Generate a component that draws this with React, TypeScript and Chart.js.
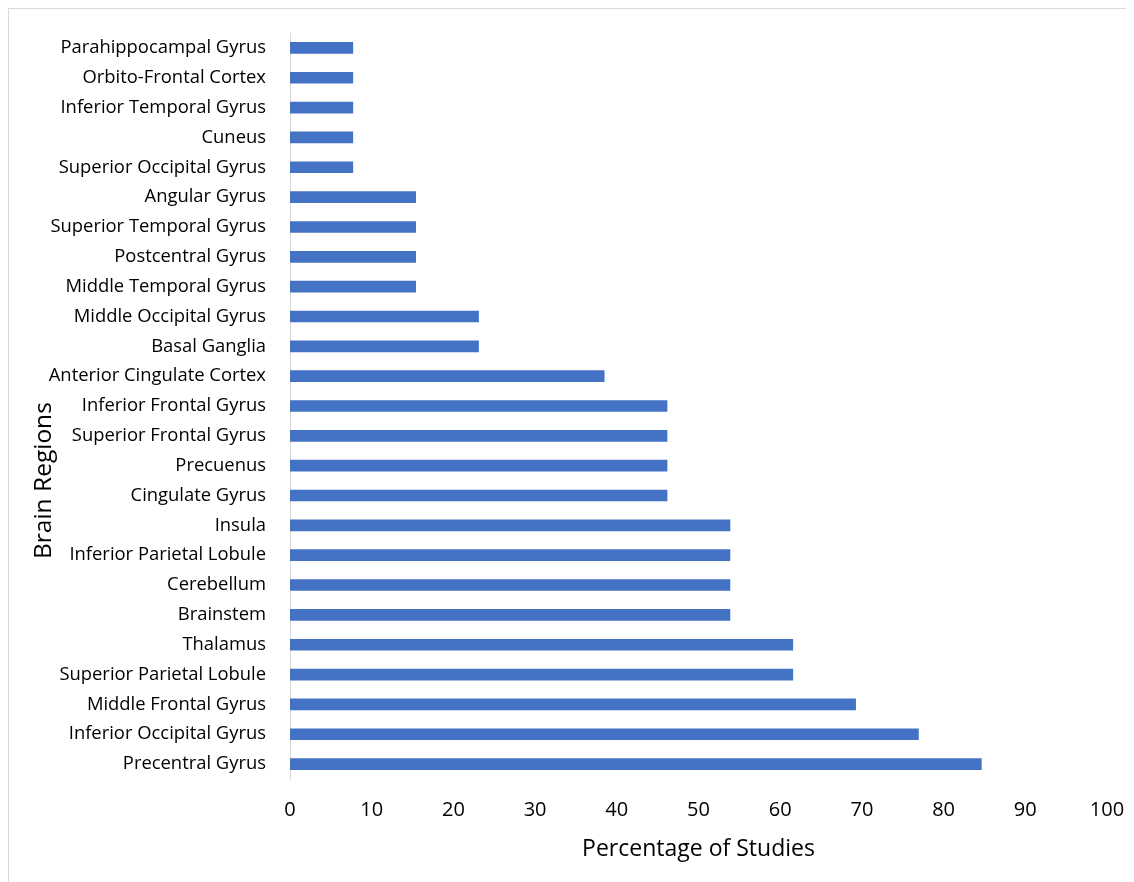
import React, { useEffect, useRef } from "react";
import { Chart, registerables } from "chart.js";

Chart.register(...registerables);

// Brain regions, listed top to bottom as drawn
const regions: string[] = [
  "Parahippocampal Gyrus",
  "Orbito-Frontal Cortex",
  "Inferior Temporal Gyrus",
  "Cuneus",
  "Superior Occipital Gyrus",
  "Angular Gyrus",
  "Superior Temporal Gyrus",
  "Postcentral Gyrus",
  "Middle Temporal Gyrus",
  "Middle Occipital Gyrus",
  "Basal Ganglia",
  "Anterior Cingulate Cortex",
  "Inferior Frontal Gyrus",
  "Superior Frontal Gyrus",
  "Precuenus",
  "Cingulate Gyrus",
  "Insula",
  "Inferior Parietal Lobule",
  "Cerebellum",
  "Brainstem",
  "Thalamus",
  "Superior Parietal Lobule",
  "Middle Frontal Gyrus",
  "Inferior Occipital Gyrus",
  "Precentral Gyrus",
];

// Percentage of studies reporting each region
const percentages: number[] = [
  7.69, 7.69, 7.69, 7.69, 7.69,
  15.38, 15.38, 15.38, 15.38,
  23.08, 23.08,
  38.46,
  46.15, 46.15, 46.15, 46.15,
  53.85, 53.85, 53.85, 53.85,
  61.54, 61.54,
  69.23,
  76.92,
  84.62,
];

const xMin = 0;
const xMax = 100;
const xStep = 10;

const xTitle = "Percentage of Studies";
const yTitle = "Brain Regions";

const FONT = "'Open Sans', 'Noto Sans', sans-serif";

// Draws both axis titles in Excel-like positions
const axisTitles = {
  id: "axisTitles",
  afterDraw(chart: Chart) {
    const { ctx, chartArea } = chart;
    ctx.save();
    ctx.fillStyle = "#000000";
    ctx.textAlign = "center";
    ctx.textBaseline = "middle";
    ctx.font = `23px ${FONT}`;
    ctx.fillText(xTitle, (chartArea.left + chartArea.right) / 2, chartArea.bottom + 70);
    ctx.font = `24.5px ${FONT}`;
    ctx.translate(35, chartArea.top + 0.6 * (chartArea.bottom - chartArea.top));
    ctx.rotate(-Math.PI / 2);
    ctx.fillText(yTitle, 0, 0);
    ctx.restore();
  },
};

export default function App() {
  const canvasRef = useRef<HTMLCanvasElement | null>(null);

  useEffect(() => {
    if (!canvasRef.current) return;
    const chart = new Chart(canvasRef.current, {
      type: "bar",
      data: {
        labels: regions,
        datasets: [
          {
            data: percentages,
            backgroundColor: "#4472C4",
            borderWidth: 0,
            barThickness: 11,
          },
        ],
      },
      options: {
        indexAxis: "y",
        animation: false,
        responsive: false,
        layout: { padding: { top: 24, right: 27, left: 0, bottom: 0 } },
        plugins: {
          legend: { display: false },
          tooltip: { enabled: false },
        },
        scales: {
          x: {
            min: xMin,
            max: xMax,
            grid: { display: false, drawTicks: false },
            border: { display: false },
            ticks: {
              stepSize: xStep,
              color: "#000000",
              padding: 19,
              maxRotation: 0,
              font: { family: FONT, size: 20 },
            },
            afterFit(scale: any) {
              scale.height = 103;
              scale.paddingLeft = 0;
              scale.paddingRight = 0;
            },
          },
          y: {
            grid: { display: false, drawTicks: false },
            border: { display: true, color: "#d9d9d9", width: 1 },
            ticks: {
              color: "#000000",
              padding: 24,
              autoSkip: false,
              font: { family: FONT, size: 18.4 },
            },
            afterFit(scale: any) {
              scale.width = 281;
              scale.paddingTop = 0;
              scale.paddingBottom = 0;
            },
          },
        },
      },
      plugins: [axisTitles],
    });
    return () => chart.destroy();
  }, []);

  return (
    <div
      style={{
        width: 1126,
        height: 874,
        borderTop: "1px solid #d9d9d9",
        borderLeft: "1px solid #d9d9d9",
        boxSizing: "border-box",
        background: "#ffffff",
      }}
    >
      <canvas ref={canvasRef} width={1125} height={873} style={{ display: "block" }} />
    </div>
  );
}
